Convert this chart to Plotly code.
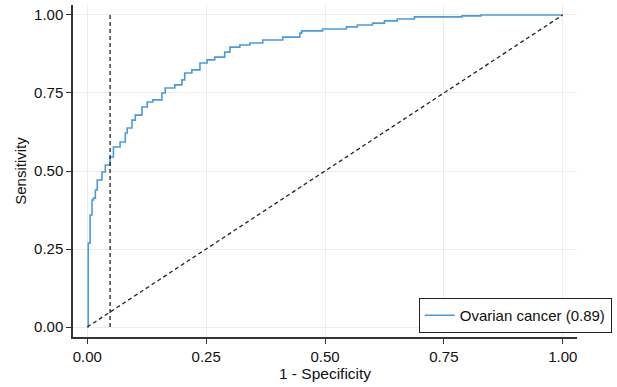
import plotly.graph_objects as go

# ROC curve (1 - specificity, sensitivity)
fpr = [0.0, 0.002, 0.006, 0.010, 0.013, 0.017, 0.021, 0.031, 0.038, 0.048, 0.055,
       0.069, 0.080, 0.084, 0.094, 0.101, 0.115, 0.126, 0.138, 0.157, 0.164,
       0.184, 0.199, 0.205, 0.220, 0.237, 0.252, 0.268, 0.289, 0.300, 0.321,
       0.342, 0.369, 0.411, 0.447, 0.451, 0.495, 0.545, 0.568, 0.600, 0.625,
       0.652, 0.688, 0.788, 0.828, 1.0]
tpr = [0.0, 0.269, 0.359, 0.407, 0.413, 0.439, 0.471, 0.497, 0.519, 0.545, 0.577,
       0.593, 0.622, 0.638, 0.663, 0.679, 0.705, 0.721, 0.728, 0.750, 0.766,
       0.776, 0.792, 0.814, 0.824, 0.846, 0.856, 0.865, 0.881, 0.897, 0.904,
       0.910, 0.920, 0.929, 0.942, 0.949, 0.955, 0.962, 0.968, 0.974, 0.981,
       0.987, 0.994, 0.997, 1.0, 1.0]
series_name = "Ovarian cancer (0.89)"

chance_x = [0.0, 1.0]
chance_y = [0.0, 1.0]
cutoff_x = [0.048, 0.048]
cutoff_y = [0.0, 1.0]

tick_vals = [0.0, 0.25, 0.5, 0.75, 1.0]
tick_text = ["0.00", "0.25", "0.50", "0.75", "1.00"]

FONT = "Liberation Sans, Arial, Helvetica, sans-serif"

fig = go.Figure()
fig.add_trace(go.Scatter(x=fpr, y=tpr, mode="lines", name=series_name,
                         line=dict(color="#4a9ae0", width=1.6, shape="hv")))
fig.add_trace(go.Scatter(x=chance_x, y=chance_y, mode="lines", showlegend=False,
                         line=dict(color="#222222", width=1.3, dash="4px,3px")))
fig.add_trace(go.Scatter(x=cutoff_x, y=cutoff_y, mode="lines", showlegend=False,
                         line=dict(color="#222222", width=1.3, dash="4px,3px")))

axis_common = dict(
    tickvals=tick_vals, ticktext=tick_text,
    showgrid=True, gridcolor="#ececec", gridwidth=1,
    zeroline=False, showline=True, linecolor="#333333", linewidth=1.5,
    ticks="outside", ticklen=5, tickcolor="#333333", tickwidth=1,
    tickfont=dict(family=FONT, size=15, color="#111111"),
    mirror=False,
)

fig.update_layout(
    width=617, height=387,
    margin=dict(l=73, r=40, t=5, b=50),
    paper_bgcolor="white", plot_bgcolor="white",
    font=dict(family=FONT, color="#111111"),
    xaxis=dict(range=[-0.03, 1.03], title=dict(text="1 - Specificity",
               font=dict(family=FONT, size=15.5), standoff=1), **axis_common),
    yaxis=dict(range=[-0.032, 1.032], title=dict(text="Sensitivity",
               font=dict(family=FONT, size=15), standoff=4), **axis_common),
    legend=dict(x=1.069, y=0.012, xanchor="right", yanchor="bottom",
                bgcolor="white", bordercolor="#222222", borderwidth=1,
                font=dict(family=FONT, size=15, color="#111111"),
                itemwidth=30, tracegroupgap=0),
)

fig.write_html("out.html")
